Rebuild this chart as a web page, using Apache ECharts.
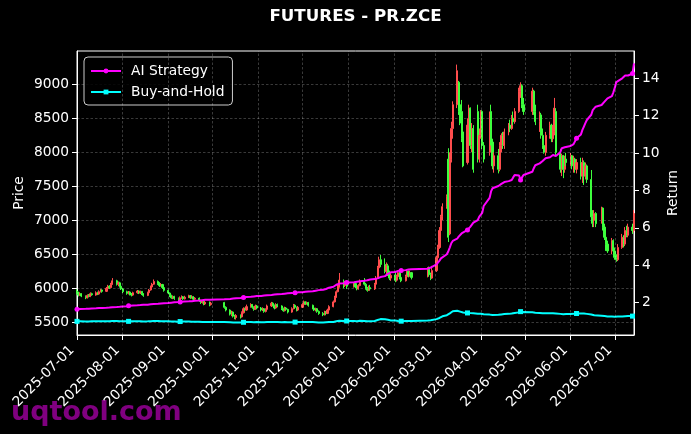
<!DOCTYPE html>
<html><head><meta charset="utf-8">
<script src="https://cdn.jsdelivr.net/npm/echarts@6/dist/echarts.min.js"></script>
<style>html,body{margin:0;padding:0;background:#000;}#c{width:691px;height:434px;}</style>
</head><body><div id="c"></div>
<script>
// ---- calendar ----
const startDate = '2025-07-01';
const endDate = '2026-07-14';
const holidays = ['2025-10-01','2025-10-02','2025-10-03','2025-10-06','2025-10-07','2025-10-08',
  '2026-01-01','2026-01-02','2026-02-16','2026-02-17','2026-02-18','2026-02-19','2026-02-20','2026-02-23',
  '2026-04-06','2026-05-01','2026-05-04','2026-05-05','2026-06-19'];
const tickLabels = ['2025-07-01','2025-08-01','2025-09-01','2025-10-01','2025-11-01','2025-12-01',
  '2026-01-01','2026-02-01','2026-03-01','2026-04-01','2026-05-01','2026-06-01','2026-07-01'];
const priceTicks = [5500,6000,6500,7000,7500,8000,8500,9000];
const returnTicks = [2,4,6,8,10,12,14];

// ---- OHLC (one line per month) ----
const opens = [
5960,5930,5905,5920,5880,5860,5895,5880,5920,5900,5935,5915,5950,5975,5955,5995,6030,6010,6060,6110,6060,6080,6030,
5990,5950,5925,5945,5915,5900,5935,5960,5930,5955,5920,5895,5935,5975,6020,6060,6100,6070,6040,6055,6010,
5970,5930,5890,5860,5880,5850,5830,5860,5875,5845,5870,5890,5860,5875,5840,5855,5820,5790,5810,5770,5795,5760,
5790,5720,5680,5620,5650,5590,5570,5600,5580,5640,5700,5680,5730,5760,5720,5690,5740,
5710,5680,5700,5660,5690,5740,5780,5750,5710,5760,5740,5700,5670,5710,5690,5650,5700,5750,5720,5680,
5720,5760,5800,5770,5790,5750,5710,5680,5700,5660,5630,5610,5650,5630,5680,5730,5800,5870,5950,6020,6100,6040,6080,
6030,6070,6020,5990,6040,6100,6060,6000,5970,6010,5990,6060,6150,6300,6420,6350,6250,6330,6220,6150,
6190,6120,6170,6230,6160,6110,6170,6250,6190,6230,6180,6280,6200,6150,
6260,6450,6600,6850,7050,7200,7900,6800,7900,8350,8700,9030,8700,8600,8300,7850,8400,8650,8100,8350,8600,7900,
8250,8600,8100,8000,8600,8150,7800,7950,7750,8100,8250,8100,8300,8400,8350,8500,8450,8600,8900,8980,8700,
8600,8900,8600,8450,8550,8250,8100,8000,8250,8400,8200,8300,8600,8000,7750,7950,7750,7900,
7850,7950,7800,7900,7750,7850,7650,7850,7650,7800,7600,7050,7000,7100,7000,7180,6900,6750,6650,6550,6700,
6550,6450,6420,6600,6750,6650,6850,6780,6900,6850];
const closes = [
5930,5900,5920,5885,5860,5895,5880,5920,5905,5935,5915,5950,5975,5955,6000,6030,6010,6060,6110,6060,6080,6030,5990,
5950,5925,5945,5915,5900,5935,5960,5930,5955,5920,5895,5935,5975,6020,6060,6100,6070,6040,6055,6010,5970,
5930,5890,5860,5880,5850,5830,5860,5875,5845,5870,5890,5860,5875,5840,5855,5820,5790,5810,5770,5795,5760,5780,
5720,5680,5620,5650,5590,5570,5600,5580,5640,5700,5680,5730,5760,5720,5690,5740,5710,
5680,5700,5660,5690,5740,5780,5750,5710,5760,5740,5700,5670,5710,5690,5650,5700,5750,5720,5680,5720,
5760,5800,5770,5790,5750,5710,5680,5700,5660,5630,5610,5650,5630,5680,5730,5800,5870,5950,6020,6120,6040,6080,6030,
6070,6020,5990,6040,6100,6060,6000,5970,6010,5990,6060,6150,6300,6420,6350,6250,6330,6220,6150,6190,
6120,6170,6230,6160,6110,6170,6250,6190,6230,6160,6280,6200,6150,6260,
6450,6600,6850,7050,7200,7350,6750,7900,8350,8700,9200,8600,8430,8200,7800,8400,8650,8100,8350,7750,7900,8250,
8600,8100,7900,8500,8150,7800,7950,7750,8100,8250,8100,8300,8400,8350,8500,8450,8600,8900,8980,8700,8600,
8900,8600,8450,8550,8250,8100,8000,8250,8400,8200,8300,8650,8000,7750,7950,7750,7900,7850,
7950,7800,7900,7750,7850,7650,7850,7650,7800,7600,7050,6950,7100,6950,7180,6900,6750,6650,6550,6700,6550,
6450,6420,6600,6750,6650,6850,6780,6900,6850,7100];
const lows = [
5910,5880,5890,5870,5840,5850,5865,5870,5890,5890,5900,5905,5940,5935,5945,5985,5990,6000,6050,6040,6030,6010,5975,
5930,5905,5910,5895,5880,5890,5920,5915,5915,5900,5875,5885,5925,5965,6010,6050,6050,6020,6025,5990,5950,
5915,5870,5845,5840,5830,5805,5820,5845,5830,5835,5855,5845,5850,5820,5830,5800,5770,5775,5750,5755,5735,5745,
5700,5660,5600,5590,5570,5545,5540,5555,5570,5630,5660,5670,5715,5700,5670,5680,5690,
5660,5665,5640,5645,5680,5725,5735,5690,5700,5720,5680,5655,5660,5675,5630,5640,5690,5700,5660,5665,
5710,5745,5755,5760,5730,5690,5665,5660,5640,5610,5590,5600,5605,5620,5670,5720,5790,5860,5940,6010,6000,6020,5990,
6010,6000,5970,5980,6030,6040,5980,5950,5960,5970,5975,6050,6140,6290,6310,6220,6200,6180,6120,6110,
6090,6100,6150,6130,6090,6100,6150,6160,6170,6130,6160,6170,6120,6140,
6240,6420,6580,6820,7000,7170,6680,6780,7850,8200,8650,8550,8400,8150,7780,7820,8300,8050,8000,7700,7850,7850,
8200,8050,7850,7950,8100,7750,7700,7690,7720,8000,8050,8050,8250,8300,8330,8400,8420,8580,8800,8650,8550,
8550,8550,8400,8300,8200,8050,7980,7950,8200,8150,8150,8250,7950,7700,7650,7620,7700,7800,
7800,7750,7700,7700,7690,7600,7550,7520,7600,7550,6950,6900,6900,6900,6950,6850,6710,6550,6520,6500,6450,
6420,6390,6400,6580,6600,6620,6750,6750,6800,6820];
const highs = [
5985,5950,5940,5930,5895,5910,5915,5940,5935,5955,5950,5970,5990,5985,6020,6050,6045,6080,6150,6125,6100,6095,6045,
6000,5965,5960,5955,5930,5950,5975,5970,5965,5960,5930,5950,5990,6040,6080,6130,6115,6090,6075,6065,6020,
5980,5940,5905,5895,5890,5865,5880,5895,5885,5890,5905,5900,5895,5885,5870,5865,5830,5830,5820,5815,5805,5800,
5800,5735,5690,5670,5660,5610,5620,5615,5660,5720,5715,5760,5780,5770,5735,5760,5755,
5725,5720,5710,5705,5760,5800,5795,5760,5780,5775,5750,5715,5730,5725,5700,5720,5770,5765,5730,5740,
5780,5820,5810,5805,5800,5760,5725,5715,5710,5675,5650,5670,5665,5700,5750,5820,5890,5970,6050,6225,6130,6110,6100,
6090,6085,6040,6060,6130,6150,6080,6020,6040,6050,6080,6180,6330,6465,6490,6440,6380,6360,6260,6220,
6230,6200,6260,6250,6180,6200,6270,6260,6260,6240,6310,6320,6230,6330,
6480,6640,6900,7080,7250,7380,8060,8000,8450,8750,9290,9050,8800,8770,8350,8500,8700,8660,8430,8400,8700,8350,
8620,8620,8150,8600,8700,8200,8000,8050,8150,8280,8300,8350,8430,8480,8550,8600,8650,8950,9030,9000,8800,
8950,8920,8700,8600,8580,8350,8200,8300,8450,8420,8400,8800,8650,8050,7980,7960,7950,7990,
7990,7960,7950,7920,7900,7920,7920,7880,7850,7820,7740,7150,7150,7120,7200,7190,6950,6780,6700,6740,6720,
6600,6500,6650,6800,6780,6900,6920,6950,6950,7150];

// ---- cumulative returns ----
const aiReturn = [
1.65,1.65,1.66,1.66,1.67,1.67,1.68,1.68,1.69,1.70,1.70,1.71,1.72,1.72,1.73,1.74,1.74,1.75,1.76,1.77,1.77,1.78,1.79,
1.80,1.81,1.83,1.84,1.84,1.85,1.86,1.86,1.87,1.88,1.89,1.89,1.90,1.91,1.92,1.93,1.94,1.95,1.96,1.96,1.97,
1.98,1.99,2.00,2.01,2.02,2.03,2.04,2.05,2.05,2.06,2.07,2.08,2.08,2.09,2.10,2.11,2.12,2.13,2.14,2.15,2.16,2.17,
2.18,2.19,2.20,2.21,2.22,2.23,2.24,2.25,2.26,2.28,2.29,2.30,2.31,2.32,2.33,2.34,2.35,
2.36,2.37,2.38,2.39,2.40,2.41,2.42,2.43,2.44,2.45,2.46,2.47,2.48,2.49,2.50,2.51,2.52,2.53,2.54,2.55,
2.56,2.57,2.58,2.59,2.60,2.61,2.63,2.64,2.65,2.67,2.69,2.71,2.73,2.76,2.80,2.85,2.91,2.96,3.00,3.02,3.04,3.06,3.08,
3.09,3.10,3.12,3.13,3.15,3.17,3.18,3.20,3.22,3.24,3.26,3.28,3.30,3.33,3.37,3.42,3.48,3.54,3.58,3.62,
3.64,3.67,3.70,3.71,3.72,3.74,3.76,3.77,3.78,3.79,3.82,3.85,3.88,3.93,
4.05,4.15,4.25,4.37,4.47,4.59,4.75,4.95,5.18,5.30,5.42,5.53,5.62,5.70,5.80,5.89,5.98,6.07,6.16,6.28,6.42,6.60,
6.70,6.80,7.17,7.60,7.95,8.12,8.18,8.24,8.30,8.35,8.40,8.45,8.50,8.53,8.56,8.70,8.83,8.80,8.56,8.70,8.83,
9.00,9.19,9.35,9.45,9.52,9.58,9.65,9.72,9.78,9.84,9.90,9.92,9.84,10.05,10.26,10.29,10.31,10.34,
10.38,10.43,10.48,10.52,10.79,11.00,11.24,11.42,11.60,11.77,12.05,12.30,12.40,12.48,12.57,12.66,12.75,12.84,12.93,13.05,13.25,
13.50,13.80,13.85,14.00,14.10,14.15,14.20,14.15,14.25,14.80];
const bhReturn = [
1.00,1.00,1.00,0.99,0.99,0.99,0.99,1.00,1.00,1.00,1.00,1.00,1.01,1.01,1.01,1.01,1.01,1.02,1.02,1.02,1.02,1.01,1.01,
1.01,1.00,1.00,1.00,0.99,1.00,1.00,1.00,1.00,1.00,0.99,1.00,1.00,1.01,1.02,1.02,1.02,1.01,1.01,1.01,1.00,
1.00,0.99,0.99,0.99,0.99,0.98,0.99,0.99,0.98,0.99,0.99,0.99,0.98,0.98,0.98,0.98,0.97,0.97,0.97,0.97,0.97,0.97,
0.96,0.96,0.95,0.95,0.94,0.94,0.94,0.94,0.94,0.95,0.95,0.96,0.96,0.96,0.95,0.96,0.96,
0.95,0.96,0.95,0.95,0.96,0.97,0.96,0.96,0.96,0.96,0.95,0.95,0.96,0.95,0.95,0.95,0.96,0.96,0.95,0.96,
0.96,0.97,0.97,0.97,0.96,0.96,0.95,0.95,0.95,0.94,0.94,0.95,0.95,0.95,0.96,0.97,0.98,1.00,1.01,1.03,1.02,1.02,1.02,
1.02,1.02,1.01,1.02,1.03,1.02,1.01,1.01,1.01,1.01,1.02,1.04,1.07,1.10,1.12,1.11,1.10,1.08,1.06,1.05,
1.04,1.03,1.02,1.02,1.01,1.02,1.03,1.02,1.03,1.02,1.04,1.05,1.06,1.08,
1.12,1.15,1.18,1.22,1.27,1.33,1.38,1.43,1.49,1.54,1.57,1.55,1.52,1.50,1.47,1.45,1.46,1.44,1.46,1.43,1.41,1.40,
1.41,1.40,1.38,1.36,1.35,1.34,1.34,1.35,1.36,1.37,1.38,1.39,1.40,1.41,1.42,1.43,1.45,1.48,1.52,1.50,1.48,
1.49,1.47,1.46,1.45,1.44,1.43,1.42,1.43,1.44,1.43,1.43,1.44,1.42,1.40,1.39,1.38,1.39,1.39,
1.39,1.40,1.40,1.41,1.42,1.42,1.43,1.42,1.41,1.40,1.37,1.34,1.33,1.31,1.30,1.29,1.28,1.27,1.26,1.26,1.25,
1.25,1.25,1.26,1.26,1.26,1.27,1.27,1.28,1.28,1.29];

// ---- build ----
function parseD(s){const p=s.split('-');return new Date(+p[0],+p[1]-1,+p[2]);}
function key(d){return d.getFullYear()+'-'+String(d.getMonth()+1).padStart(2,'0')+'-'+String(d.getDate()).padStart(2,'0');}
function fmtDate(v){return key(new Date(v));}
const dates=[];
for(let d=parseD(startDate);d<=parseD(endDate);d.setDate(d.getDate()+1)){
  const wd=d.getDay(); if(wd===0||wd===6) continue;
  if(holidays.indexOf(key(d))>=0) continue;
  dates.push(d.getTime());
}
const n=Math.min(dates.length,opens.length,closes.length,lows.length,highs.length);
const candleData=[], aiData=[], bhData=[];
for(let i=0;i<n;i++){
  candleData.push([dates[i],opens[i],closes[i],lows[i],highs[i]]);
  aiData.push([dates[i],aiReturn[i]]);
  bhData.push([dates[i],bhReturn[i]]);
}
const tickTimes=tickLabels.map(s=>parseD(s).getTime());
const FONT='DejaVu Sans';
const UP='#ff4d4d', DOWN='#3dff3d';
const gridLine={color:'rgba(255,255,255,0.32)',width:0.7,type:[2.5,2]};

const chart=echarts.init(document.getElementById('c'),null,{renderer:'canvas'});
chart.setOption({
  backgroundColor:'#000',
  animation:false,
  title:{text:'FUTURES - PR.ZCE',left:355.5,top:8,textAlign:'center',padding:0,
    textStyle:{color:'#fff',fontSize:16.7,fontWeight:'bold',fontFamily:FONT}},
  grid:{left:77,right:57,top:51,bottom:99,show:true,borderColor:'#fff',borderWidth:1,containLabel:false,outerBoundsMode:'none'},
  legend:{orient:'vertical',left:84,top:57,padding:[6,8,5,6],itemWidth:30,itemHeight:6,itemGap:5,
    backgroundColor:'rgba(0,0,0,0.85)',borderColor:'#cccccc',borderWidth:1,borderRadius:4,
    textStyle:{color:'#fff',fontSize:13.8,fontFamily:FONT,padding:[0,0,0,5],lineHeight:16},
    data:['AI Strategy','Buy-and-Hold']},
  xAxis:{type:'value',min:dates[0],max:dates[n-1],scale:true,
    axisLine:{show:true,lineStyle:{color:'#fff',width:1}},
    axisTick:{show:true,length:5,lineStyle:{color:'#fff'},customValues:tickTimes},
    axisLabel:{show:true,rotate:45,margin:8,color:'#fff',fontSize:13.8,fontFamily:FONT,padding:[0,7,0,0],
      customValues:tickTimes,formatter:function(v){return fmtDate(v);}},
    splitLine:{show:false}},
  yAxis:[
    {type:'value',min:5313,max:9490,splitNumber:8,name:'Price',nameLocation:'middle',nameGap:51,nameRotate:90,
     nameMoveOverlap:false,
     nameTextStyle:{color:'#fff',fontSize:13.8,fontFamily:FONT},
     axisLine:{show:true,lineStyle:{color:'#fff'}},
     axisTick:{show:true,length:5,lineStyle:{color:'#fff'},customValues:priceTicks},
     axisLabel:{color:'#fff',fontSize:13.8,fontFamily:FONT,margin:8,customValues:priceTicks,
       formatter:function(v){return String(v);}},
     splitLine:{show:true,lineStyle:gridLine}},
    {type:'value',position:'right',min:0.27,max:15.46,splitNumber:8,name:'Return',nameLocation:'middle',nameGap:32,nameRotate:90,
     nameMoveOverlap:false,
     nameTextStyle:{color:'#fff',fontSize:13.8,fontFamily:FONT},
     axisLine:{show:true,lineStyle:{color:'#fff'}},
     axisTick:{show:true,length:5,lineStyle:{color:'#fff'},customValues:returnTicks},
     axisLabel:{color:'#fff',fontSize:13.8,fontFamily:FONT,margin:8,customValues:returnTicks,
       formatter:function(v){return String(v);}},
     splitLine:{show:false}}
  ],
  series:[
    {type:'candlestick',name:'Price',xAxisIndex:0,yAxisIndex:0,data:candleData,encode:{x:0,y:[1,2,3,4]},
     barWidth:1.6,z:2,
     itemStyle:{color:UP,color0:DOWN,borderColor:UP,borderColor0:DOWN,borderWidth:1},
     markLine:{silent:true,symbol:['none','none'],label:{show:false},lineStyle:gridLine,animation:false,
       data:tickTimes.map(t=>({xAxis:t}))}},
    {type:'line',name:'AI Strategy',yAxisIndex:1,data:aiData,z:4,showAllSymbol:true,symbol:'circle',
     symbolSize:function(v,p){return p.dataIndex%25===0?5:0;},
     lineStyle:{color:'#ff00ff',width:2},itemStyle:{color:'#ff00ff'}},
    {type:'line',name:'Buy-and-Hold',yAxisIndex:1,data:bhData,z:3,showAllSymbol:true,symbol:'rect',
     symbolSize:function(v,p){return p.dataIndex%25===0?5:0;},
     lineStyle:{color:'#00ffff',width:2},itemStyle:{color:'#00ffff'}}
  ],
  graphic:[{type:'text',x:11,y:413,z:-1,silent:true,
    style:{text:'uqtool.com',font:'bold 27px "DejaVu Sans"',fill:'rgba(139,0,139,0.92)',textVerticalAlign:'middle'}}]
});
</script></body></html>
